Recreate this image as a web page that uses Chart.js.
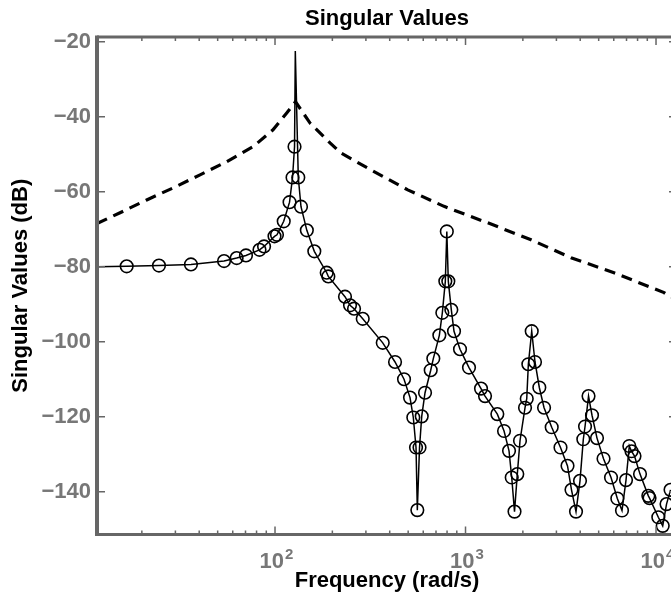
<!DOCTYPE html>
<html>
<head>
<meta charset="utf-8">
<script src="https://cdn.jsdelivr.net/npm/chart.js@4/dist/chart.umd.min.js"></script>
<style>
html, body { margin: 0; padding: 0; overflow: hidden; background: #ffffff; }
#wrap { width: 774px; height: 608px; }
</style>
</head>
<body>
<div id="wrap"><canvas id="c" width="774" height="608"></canvas></div>
<script>
// ---- data (frequency in rad/s, magnitude in dB) ----
const markerFreq = [16.65, 24.6, 36.2, 54.0, 62.9, 70.4, 82.9, 87.6, 99.4, 102.4,
  111.1, 119.2, 123.6, 126.6, 132.5, 136.9, 146.9, 160.8, 186.8, 190.5,
  233.0, 247.6, 259.9, 288.7, 367.7, 426.6, 475.6, 511.3, 532.1, 549.8,
  558.5, 573.5, 589.0, 613.0, 656.6, 677.6, 728.8, 755.6, 783.5, 797.7,
  812.3, 842.4, 870.2, 935.6, 1043, 1206, 1266, 1469, 1593, 1692,
  1748, 1808, 1870, 1932, 2053, 2096, 2137, 2226, 2316, 2440,
  2584, 2834, 3152, 3431, 3600, 3802, 3990, 4153, 4240, 4423,
  4613, 4900, 5302, 5805, 6264, 6629, 6958, 7241, 7436, 7710,
  8241, 9113, 9246, 10282, 10844, 11354, 11917];
const markerDb = [-79.9, -79.7, -79.4, -78.5, -77.7, -77.0, -75.5, -74.6, -71.9, -71.5,
  -67.9, -62.8, -56.2, -48.0, -56.2, -64.0, -70.3, -75.9, -81.6, -82.6,
  -88.0, -90.3, -91.2, -93.9, -100.3, -105.4, -110.0, -114.9, -120.2, -128.2,
  -144.9, -128.2, -119.9, -113.6, -107.6, -104.5, -98.3, -92.3, -83.9, -70.6,
  -83.9, -91.5, -97.2, -102.0, -106.9, -112.5, -114.5, -119.3, -123.8, -129.1,
  -136.2, -145.3, -135.3, -126.4, -117.6, -115.2, -106.0, -97.2, -105.4, -112.2,
  -117.6, -122.8, -128.2, -133.1, -139.5, -145.3, -137.1, -126.0, -122.6, -114.5,
  -119.6, -125.7, -131.2, -136.2, -141.8, -145.0, -136.9, -127.8, -129.2, -130.5,
  -135.3, -141.1, -141.7, -146.8, -149.1, -143.3, -139.5];
// extra points of the solid curve that carry no marker (start, resonance spike)
const lineExtraFreq = [11.63, 127.8];
const lineExtraDb = [-80.0, -22.5];
// dashed curve
const boundFreq = [11.63, 15.37, 21.2, 29.15, 40.4, 55.8, 76.7, 97.6, 115.2, 128.1,
  152.7, 194.4, 222.1, 319.1, 497.3, 771.3, 1308, 2207, 3579, 6018, 11020, 11985];
const boundDb = [-68.5, -65.6, -62.2, -59.0, -55.5, -52.0, -48.0, -43.5, -39.0, -36.0,
  -41.7, -47.0, -49.7, -54.2, -59.5, -63.9, -68.3, -72.8, -77.6, -81.6, -86.9, -88.2];
// ticks
const xTickValues = [100, 1000, 10000];
const xTickBase = ['10', '10', '10'];
const xTickExp = ['2', '3', '4'];
const yTickValues = [-140, -120, -100, -80, -60, -40, -20];
const yTickLabels = ['\u2212140', '\u2212120', '\u2212100', '\u221280', '\u221260', '\u221240', '\u221220'];
const xMin = 11.63, xMax = 12886, yMin = -151.4, yMax = -18.75;

const FONT = '"Liberation Sans", Arial, Helvetica, sans-serif';
const AXIS = '#666666';
const TICKTXT = '#777777';

const lineData = markerFreq.map((f, i) => ({x: f, y: markerDb[i]}))
  .concat(lineExtraFreq.map((f, i) => ({x: f, y: lineExtraDb[i]})))
  .sort((a, b) => a.x - b.x);

const axesPlugin = {
  id: 'matlabAxes',
  afterDraw(chart) {
    const {ctx, chartArea: a, scales} = chart;
    const x = scales.x, y = scales.y;
    ctx.save();
    ctx.strokeStyle = AXIS;
    ctx.lineWidth = 1.5;
    // minor / major x ticks (inward, bottom and top)
    for (let d = 10; d <= 10000; d *= 10) {
      for (let m = 1; m <= 9; m++) {
        const v = m * d;
        if (v < xMin || v > xMax) continue;
        const major = (m === 1);
        const len = major ? 8 : 4;
        const px = x.getPixelForValue(v);
        ctx.beginPath();
        ctx.moveTo(px, a.bottom); ctx.lineTo(px, a.bottom - len);
        ctx.moveTo(px, a.top); ctx.lineTo(px, a.top + len);
        ctx.stroke();
      }
    }
    // y ticks (inward)
    yTickValues.forEach(v => {
      const py = y.getPixelForValue(v);
      ctx.beginPath();
      ctx.moveTo(a.left, py); ctx.lineTo(a.left + 8, py);
      ctx.moveTo(a.right, py); ctx.lineTo(a.right - 8, py);
      ctx.stroke();
    });
    // box lines
    ctx.lineWidth = 3;
    ctx.beginPath();
    ctx.moveTo(a.left, a.top); ctx.lineTo(a.right, a.top);
    ctx.moveTo(a.left, a.bottom); ctx.lineTo(a.right, a.bottom);
    ctx.stroke();
    ctx.lineWidth = 4;
    ctx.beginPath();
    ctx.moveTo(a.left, a.top - 1.5); ctx.lineTo(a.left, a.bottom + 1.5);
    ctx.stroke();
    // x tick labels with superscript exponent
    ctx.fillStyle = TICKTXT;
    ctx.textBaseline = 'alphabetic';
    ctx.textAlign = 'left';
    xTickValues.forEach((v, i) => {
      const px = x.getPixelForValue(v);
      ctx.font = 'bold 22px ' + FONT;
      const w1 = ctx.measureText(xTickBase[i]).width;
      ctx.font = 'bold 15px ' + FONT;
      const w2 = ctx.measureText(xTickExp[i]).width;
      const sx = px - (w1 + w2) / 2 + 1;
      ctx.font = 'bold 22px ' + FONT;
      ctx.fillText(xTickBase[i], sx, a.bottom + 33.5);
      ctx.font = 'bold 15px ' + FONT;
      ctx.fillText(xTickExp[i], sx + w1 + 1, a.bottom + 24);
    });
    ctx.restore();
  }
};

new Chart(document.getElementById('c'), {
  type: 'scatter',
  data: {
    datasets: [
      {
        data: boundFreq.map((f, i) => ({x: f, y: boundDb[i]})),
        showLine: true,
        borderColor: '#000000',
        borderWidth: 3.2,
        borderDash: [11, 7],
        pointRadius: 0,
        fill: false
      },
      {
        data: lineData,
        showLine: true,
        borderColor: '#000000',
        borderWidth: 1.5,
        pointRadius: 0,
        fill: false
      },
      {
        data: markerFreq.map((f, i) => ({x: f, y: markerDb[i]})),
        showLine: false,
        pointRadius: 6.3,
        pointBorderWidth: 1.6,
        pointBorderColor: '#000000',
        pointBackgroundColor: 'rgba(0,0,0,0)'
      }
    ]
  },
  options: {
    responsive: false,
    animation: false,
    devicePixelRatio: 1,
    layout: { padding: 0 },
    plugins: {
      legend: { display: false },
      tooltip: { enabled: false },
      title: {
        display: true,
        text: 'Singular Values',
        color: '#000000',
        font: { size: 22, weight: 'bold', family: FONT },
        padding: { top: 6.2, bottom: 4.4 }
      }
    },
    scales: {
      x: {
        type: 'logarithmic',
        position: 'bottom',
        min: xMin,
        max: xMax,
        afterBuildTicks: s => { s.ticks = xTickValues.map(v => ({value: v})); },
        afterFit: s => { s.height = 73.5; },
        ticks: { display: false },
        grid: { display: false, drawTicks: false },
        border: { display: false },
        title: {
          display: true,
          text: 'Frequency (rad/s)',
          color: '#000000',
          font: { size: 22, weight: 'bold', family: FONT },
          padding: { top: 0, bottom: 13.6 }
        }
      },
      y: {
        type: 'linear',
        position: 'left',
        min: yMin,
        max: yMax,
        afterBuildTicks: s => { s.ticks = yTickValues.map(v => ({value: v})); },
        afterFit: s => { s.width = 97; },
        ticks: {
          callback: v => yTickLabels[yTickValues.indexOf(v)],
          color: TICKTXT,
          font: { size: 22, weight: 'bold', family: FONT },
          padding: 6
        },
        grid: { display: false, drawTicks: false },
        border: { display: false },
        title: {
          display: true,
          text: 'Singular Values (dB)',
          color: '#000000',
          font: { size: 22, weight: 'bold', family: FONT },
          padding: { top: 8.2, bottom: 0 }
        }
      },
      y2: {
        type: 'linear',
        position: 'right',
        min: yMin,
        max: yMax,
        afterFit: s => { s.width = 97; },
        ticks: { display: false },
        grid: { display: false, drawTicks: false },
        border: { display: false }
      }
    }
  },
  plugins: [axesPlugin]
});
</script>
</body>
</html>
